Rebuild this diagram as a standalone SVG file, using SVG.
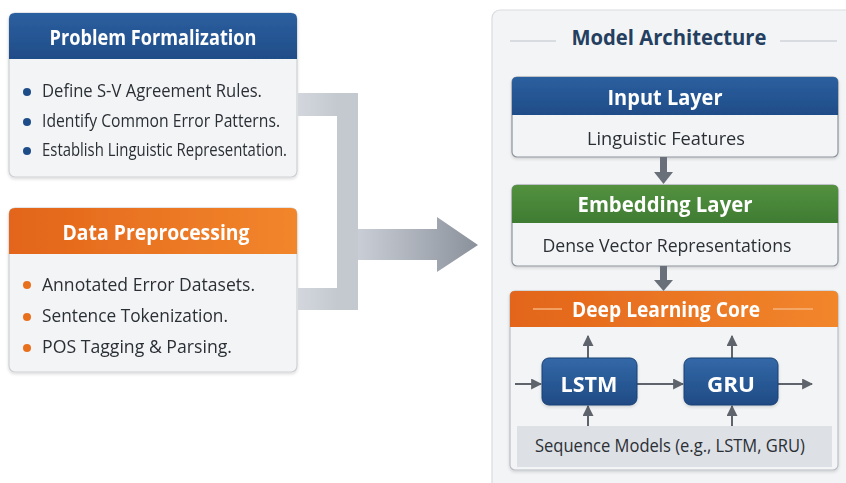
<svg xmlns="http://www.w3.org/2000/svg" width="846" height="483" viewBox="0 0 846 483">
<defs>
<style>
.card{fill:#f3f4f5;stroke:#cdd0d4;stroke-width:1.2}
.ttl{font-family:"Open Sans","Noto Sans",sans-serif;font-weight:700;font-size:21.5px;fill:#ffffff;text-anchor:middle}
.bt{font-family:"Open Sans","Noto Sans",sans-serif;font-size:18.5px;fill:#2b2f35}
.ct{font-family:"Open Sans","Noto Sans",sans-serif;font-size:19px;fill:#2b2f35;text-anchor:middle}
.mt{font-family:"Open Sans","Noto Sans",sans-serif;font-weight:700;font-size:22px;fill:#243f60;text-anchor:middle}
.deco{stroke:#cfd3d8;stroke-width:1.5}
.decow{stroke:#f7b27a;stroke-width:1.5}
.gline{stroke:#5f646c;stroke-width:2;fill:none}
.dark{fill:#6a707a}
</style>
<linearGradient id="gBlue" x1="0" y1="0" x2="0" y2="1"><stop offset="0" stop-color="#2c5f9f"/><stop offset="1" stop-color="#1f4d88"/></linearGradient>
<linearGradient id="gOrange" x1="0" y1="0" x2="1" y2="0"><stop offset="0" stop-color="#e3651a"/><stop offset="1" stop-color="#f2862c"/></linearGradient>
<linearGradient id="gGreen" x1="0" y1="0" x2="0" y2="1"><stop offset="0" stop-color="#53913f"/><stop offset="1" stop-color="#3f7c33"/></linearGradient>
<linearGradient id="gNode" x1="0" y1="0" x2="0" y2="1"><stop offset="0" stop-color="#3368a8"/><stop offset="1" stop-color="#1f4b84"/></linearGradient>
<linearGradient id="gArrow" x1="0" y1="0" x2="1" y2="0"><stop offset="0" stop-color="#c9ced6"/><stop offset="1" stop-color="#8b919b"/></linearGradient>
<linearGradient id="gBar" x1="0" y1="0" x2="1" y2="0"><stop offset="0" stop-color="#d3d7dd"/><stop offset="1" stop-color="#bcc1c9"/></linearGradient>
<filter id="sh" x="-5%" y="-5%" width="110%" height="115%"><feDropShadow dx="0" dy="1.5" stdDeviation="1.5" flood-color="#000" flood-opacity="0.15"/></filter>
<marker id="ah" viewBox="0 0 10 10" refX="9" refY="5" markerWidth="5.5" markerHeight="5.5" orient="auto"><path d="M0,0 L10,5 L0,10 z" fill="#5f646c"/></marker>
</defs>
<rect width="846" height="483" fill="#ffffff"/>

<!-- Problem Formalization -->
<g id="problem-formalization" filter="url(#sh)">
  <rect x="9" y="13" width="288" height="164" rx="6" class="card"/>
  <path d="M9,59 L9,19 Q9,13 15,13 L291,13 Q297,13 297,19 L297,59 Z" fill="url(#gBlue)"/>
  <text x="153" y="45" class="ttl" textLength="207" lengthAdjust="spacingAndGlyphs">Problem Formalization</text>
  <circle cx="27" cy="92" r="4" fill="#1f4d88"/>
  <text x="42" y="97" class="bt" textLength="220" lengthAdjust="spacingAndGlyphs">Define S-V Agreement Rules.</text>
  <circle cx="27" cy="122" r="4" fill="#1f4d88"/>
  <text x="42" y="127" class="bt" textLength="238" lengthAdjust="spacingAndGlyphs">Identify Common Error Patterns.</text>
  <circle cx="27" cy="151" r="4" fill="#1f4d88"/>
  <text x="42" y="156" class="bt" textLength="245" lengthAdjust="spacingAndGlyphs">Establish Linguistic Representation.</text>
</g>

<!-- Data Preprocessing -->
<g id="data-preprocessing" filter="url(#sh)">
  <rect x="9" y="208" width="288" height="164" rx="6" class="card"/>
  <path d="M9,254 L9,214 Q9,208 15,208 L291,208 Q297,208 297,214 L297,254 Z" fill="url(#gOrange)"/>
  <text x="156" y="240" class="ttl" textLength="187" lengthAdjust="spacingAndGlyphs">Data Preprocessing</text>
  <circle cx="27" cy="285" r="4" fill="#e8701f"/>
  <text x="42" y="291" class="bt" textLength="213" lengthAdjust="spacingAndGlyphs">Annotated Error Datasets.</text>
  <circle cx="27" cy="317" r="4" fill="#e8701f"/>
  <text x="42" y="322" class="bt" textLength="186" lengthAdjust="spacingAndGlyphs">Sentence Tokenization.</text>
  <circle cx="27" cy="348" r="4" fill="#e8701f"/>
  <text x="42" y="353" class="bt" textLength="190" lengthAdjust="spacingAndGlyphs">POS Tagging &amp; Parsing.</text>
</g>

<!-- Model Architecture panel -->
<g id="model-architecture">
  <rect x="492" y="10" width="370" height="490" rx="8" fill="#f3f4f5" stroke="#d9dbde" stroke-width="1.2"/>
  <line x1="510" y1="41" x2="556" y2="41" class="deco"/>
  <line x1="780" y1="41" x2="837" y2="41" class="deco"/>
  <text x="669" y="45" class="mt" textLength="195" lengthAdjust="spacingAndGlyphs">Model Architecture</text>
</g>

<g id="input-layer" filter="url(#sh)">
  <rect x="512" y="77" width="326" height="80" rx="5" fill="#f3f4f5" stroke="#8d939b" stroke-width="1.2"/>
  <path d="M512,115 L512,82 Q512,77 517,77 L833,77 Q838,77 838,82 L838,115 Z" fill="url(#gBlue)"/>
  <text x="665" y="105" class="ttl" textLength="115" lengthAdjust="spacingAndGlyphs">Input Layer</text>
  <text x="666" y="145" class="ct" textLength="158" lengthAdjust="spacingAndGlyphs">Linguistic Features</text>
</g>

<g id="embedding-layer" filter="url(#sh)">
  <rect x="512" y="185" width="326" height="81" rx="5" fill="#f3f4f5" stroke="#8d939b" stroke-width="1.2"/>
  <path d="M512,223 L512,190 Q512,185 517,185 L833,185 Q838,185 838,190 L838,223 Z" fill="url(#gGreen)"/>
  <text x="665" y="212" class="ttl" textLength="175" lengthAdjust="spacingAndGlyphs">Embedding Layer</text>
  <text x="667" y="252" class="ct" textLength="249" lengthAdjust="spacingAndGlyphs">Dense Vector Representations</text>
</g>

<g id="deep-learning-core" filter="url(#sh)">
  <rect x="510" y="291" width="328" height="179" rx="5" fill="#f3f4f5" stroke="#b9bdc3" stroke-width="1.2"/>
  <path d="M510,327 L510,296 Q510,291 515,291 L833,291 Q838,291 838,296 L838,327 Z" fill="url(#gOrange)"/>
  <line x1="533" y1="309" x2="562" y2="309" class="decow"/>
  <line x1="773" y1="309" x2="813" y2="309" class="decow"/>
  <text x="666" y="317" class="ttl" textLength="188" lengthAdjust="spacingAndGlyphs">Deep Learning Core</text>
</g>

<g id="sequence-models">
  <rect x="517" y="426" width="315" height="41" fill="#dde0e4"/>
  <text x="670" y="452" class="ct" textLength="270" lengthAdjust="spacingAndGlyphs">Sequence Models (e.g., LSTM, GRU)</text>
</g>

<!-- Connectors -->
<g id="connectors">
  <g id="merge-arrow">
    <rect x="298" y="93" width="60" height="23" fill="url(#gBar)"/>
    <rect x="298" y="288" width="60" height="22" fill="url(#gBar)"/>
    <rect x="337" y="93" width="21" height="217" fill="#c4c9d0"/>
    <path d="M358,229 L437,229 L437,217 L478,245 L437,272 L437,260 L358,260 Z" fill="url(#gArrow)"/>
  </g>
  <g id="arrow-input-embed">
    <rect x="660" y="157" width="7" height="16" class="dark"/>
    <path d="M654,172 L673,172 L663.5,184 Z" class="dark"/>
  </g>
  <g id="arrow-embed-core">
    <rect x="660" y="266" width="7" height="15" class="dark"/>
    <path d="M654,280 L673,280 L663.5,291 Z" class="dark"/>
  </g>
  <g id="core-arrows">
    <line x1="515" y1="384" x2="541" y2="384" class="gline" marker-end="url(#ah)"/>
    <line x1="637" y1="384" x2="683" y2="384" class="gline" marker-end="url(#ah)"/>
    <line x1="778" y1="384" x2="812" y2="384" class="gline" marker-end="url(#ah)"/>
    <line x1="588" y1="358" x2="588" y2="336" class="gline" marker-end="url(#ah)"/>
    <line x1="732" y1="358" x2="732" y2="336" class="gline" marker-end="url(#ah)"/>
    <line x1="588" y1="426" x2="588" y2="406" class="gline" marker-end="url(#ah)"/>
    <line x1="732" y1="426" x2="732" y2="406" class="gline" marker-end="url(#ah)"/>
  </g>
</g>

<g id="lstm" filter="url(#sh)">
  <rect x="542" y="358" width="95" height="47" rx="7" fill="url(#gNode)" stroke="#1a4176" stroke-width="1"/>
  <text x="589" y="392" class="ttl" textLength="57" lengthAdjust="spacingAndGlyphs">LSTM</text>
</g>

<g id="gru" filter="url(#sh)">
  <rect x="684" y="358" width="94" height="47" rx="7" fill="url(#gNode)" stroke="#1a4176" stroke-width="1"/>
  <text x="731" y="392" class="ttl" textLength="48" lengthAdjust="spacingAndGlyphs">GRU</text>
</g>
</svg>
